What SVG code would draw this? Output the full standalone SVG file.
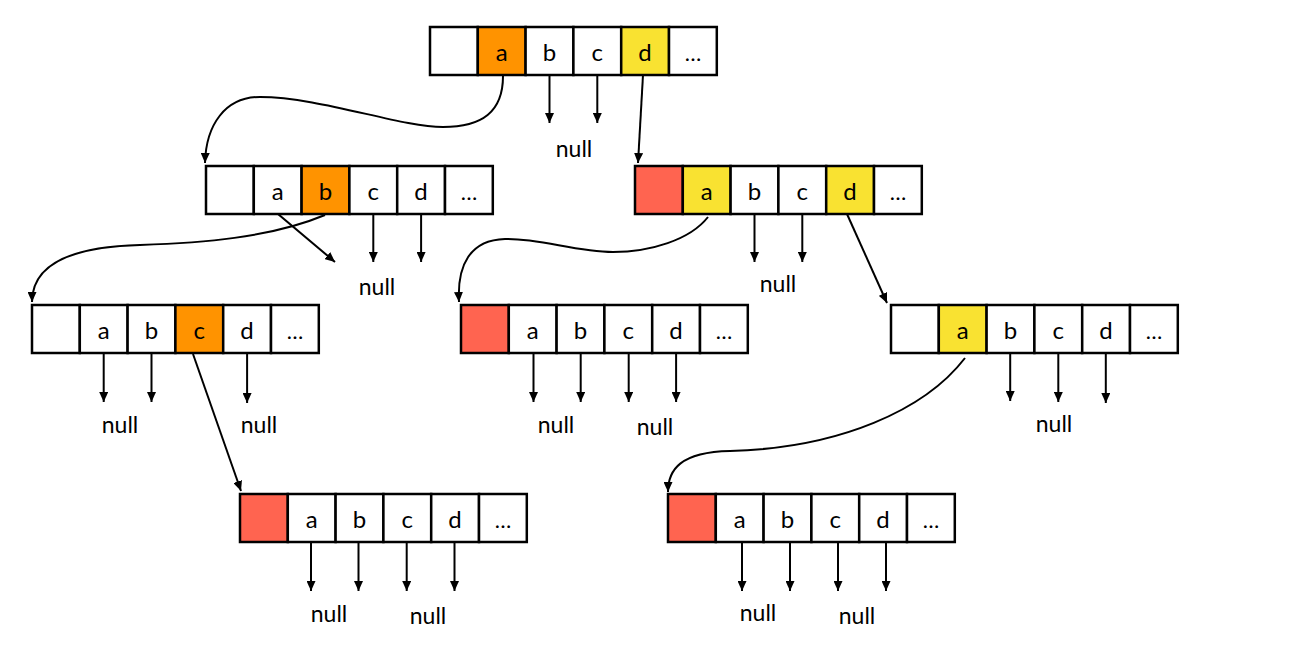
<svg xmlns="http://www.w3.org/2000/svg" width="1308" height="646" viewBox="0 0 1308 646">
  <defs>
    <marker id="arrow" viewBox="0 0 10 10" refX="10" refY="5" markerWidth="10" markerHeight="9" markerUnits="userSpaceOnUse" orient="auto" preserveAspectRatio="none">
      <path d="M0,0 L10,5 L0,10 z" fill="#000"/>
    </marker>
  </defs>
  <style>
    .cell { fill: #fff; stroke: #000; stroke-width: 2.5; }
    .orange { fill: #FF9300; }
    .yellow { fill: #F9E231; }
    .red { fill: #FF6450; }
    .lbl { font-family: Lato, "Liberation Sans", sans-serif; font-size: 24px; fill: #000; text-anchor: middle; }
    .nul { font-family: Lato, "Liberation Sans", sans-serif; font-size: 23px; fill: #000; text-anchor: middle; }
    .dots { font-family: Lato, "Liberation Sans", sans-serif; font-size: 22px; fill: #000; text-anchor: middle; }
    .link { fill: none; stroke: #000; stroke-width: 2; marker-end: url(#arrow); }
  </style>
  <rect width="1308" height="646" fill="#fff"/>

  <!-- root node -->
  <g id="node-root" transform="translate(430,27)">
    <rect class="cell" x="0" y="0" width="47.8" height="48"/>
    <rect class="cell orange" x="47.8" y="0" width="47.8" height="48"/>
    <rect class="cell" x="95.6" y="0" width="47.8" height="48"/>
    <rect class="cell" x="143.4" y="0" width="47.8" height="48"/>
    <rect class="cell yellow" x="191.2" y="0" width="47.8" height="48"/>
    <rect class="cell" x="239" y="0" width="47.8" height="48"/>
    <text class="lbl" x="71.7" y="34">a</text>
    <text class="lbl" x="119.5" y="34">b</text>
    <text class="lbl" x="167.3" y="34">c</text>
    <text class="lbl" x="215.1" y="34">d</text>
    <text class="dots" x="262.9" y="34">…</text>
  </g>

  <!-- level 1, path "a" -->
  <g id="node-a" transform="translate(206,166)">
    <rect class="cell" x="0" y="0" width="47.8" height="48"/>
    <rect class="cell" x="47.8" y="0" width="47.8" height="48"/>
    <rect class="cell orange" x="95.6" y="0" width="47.8" height="48"/>
    <rect class="cell" x="143.4" y="0" width="47.8" height="48"/>
    <rect class="cell" x="191.2" y="0" width="47.8" height="48"/>
    <rect class="cell" x="239" y="0" width="47.8" height="48"/>
    <text class="lbl" x="71.7" y="34">a</text>
    <text class="lbl" x="119.5" y="34">b</text>
    <text class="lbl" x="167.3" y="34">c</text>
    <text class="lbl" x="215.1" y="34">d</text>
    <text class="dots" x="262.9" y="34">…</text>
  </g>

  <!-- level 1, path "d" (word end) -->
  <g id="node-d" transform="translate(635,166)">
    <rect class="cell red" x="0" y="0" width="47.8" height="48"/>
    <rect class="cell yellow" x="47.8" y="0" width="47.8" height="48"/>
    <rect class="cell" x="95.6" y="0" width="47.8" height="48"/>
    <rect class="cell" x="143.4" y="0" width="47.8" height="48"/>
    <rect class="cell yellow" x="191.2" y="0" width="47.8" height="48"/>
    <rect class="cell" x="239" y="0" width="47.8" height="48"/>
    <text class="lbl" x="71.7" y="34">a</text>
    <text class="lbl" x="119.5" y="34">b</text>
    <text class="lbl" x="167.3" y="34">c</text>
    <text class="lbl" x="215.1" y="34">d</text>
    <text class="dots" x="262.9" y="34">…</text>
  </g>

  <!-- level 2, path "ab" -->
  <g id="node-ab" transform="translate(32,305)">
    <rect class="cell" x="0" y="0" width="47.8" height="48"/>
    <rect class="cell" x="47.8" y="0" width="47.8" height="48"/>
    <rect class="cell" x="95.6" y="0" width="47.8" height="48"/>
    <rect class="cell orange" x="143.4" y="0" width="47.8" height="48"/>
    <rect class="cell" x="191.2" y="0" width="47.8" height="48"/>
    <rect class="cell" x="239" y="0" width="47.8" height="48"/>
    <text class="lbl" x="71.7" y="34">a</text>
    <text class="lbl" x="119.5" y="34">b</text>
    <text class="lbl" x="167.3" y="34">c</text>
    <text class="lbl" x="215.1" y="34">d</text>
    <text class="dots" x="262.9" y="34">…</text>
  </g>

  <!-- level 2, path "da" (word end) -->
  <g id="node-da" transform="translate(461,305)">
    <rect class="cell red" x="0" y="0" width="47.8" height="48"/>
    <rect class="cell" x="47.8" y="0" width="47.8" height="48"/>
    <rect class="cell" x="95.6" y="0" width="47.8" height="48"/>
    <rect class="cell" x="143.4" y="0" width="47.8" height="48"/>
    <rect class="cell" x="191.2" y="0" width="47.8" height="48"/>
    <rect class="cell" x="239" y="0" width="47.8" height="48"/>
    <text class="lbl" x="71.7" y="34">a</text>
    <text class="lbl" x="119.5" y="34">b</text>
    <text class="lbl" x="167.3" y="34">c</text>
    <text class="lbl" x="215.1" y="34">d</text>
    <text class="dots" x="262.9" y="34">…</text>
  </g>

  <!-- level 2, path "dd" -->
  <g id="node-dd" transform="translate(891,305)">
    <rect class="cell" x="0" y="0" width="47.8" height="48"/>
    <rect class="cell yellow" x="47.8" y="0" width="47.8" height="48"/>
    <rect class="cell" x="95.6" y="0" width="47.8" height="48"/>
    <rect class="cell" x="143.4" y="0" width="47.8" height="48"/>
    <rect class="cell" x="191.2" y="0" width="47.8" height="48"/>
    <rect class="cell" x="239" y="0" width="47.8" height="48"/>
    <text class="lbl" x="71.7" y="34">a</text>
    <text class="lbl" x="119.5" y="34">b</text>
    <text class="lbl" x="167.3" y="34">c</text>
    <text class="lbl" x="215.1" y="34">d</text>
    <text class="dots" x="262.9" y="34">…</text>
  </g>

  <!-- level 3, path "abc" (word end) -->
  <g id="node-abc" transform="translate(240,494)">
    <rect class="cell red" x="0" y="0" width="47.8" height="48"/>
    <rect class="cell" x="47.8" y="0" width="47.8" height="48"/>
    <rect class="cell" x="95.6" y="0" width="47.8" height="48"/>
    <rect class="cell" x="143.4" y="0" width="47.8" height="48"/>
    <rect class="cell" x="191.2" y="0" width="47.8" height="48"/>
    <rect class="cell" x="239" y="0" width="47.8" height="48"/>
    <text class="lbl" x="71.7" y="34">a</text>
    <text class="lbl" x="119.5" y="34">b</text>
    <text class="lbl" x="167.3" y="34">c</text>
    <text class="lbl" x="215.1" y="34">d</text>
    <text class="dots" x="262.9" y="34">…</text>
  </g>

  <!-- level 3, path "dda" (word end) -->
  <g id="node-dda" transform="translate(668,494)">
    <rect class="cell red" x="0" y="0" width="47.8" height="48"/>
    <rect class="cell" x="47.8" y="0" width="47.8" height="48"/>
    <rect class="cell" x="95.6" y="0" width="47.8" height="48"/>
    <rect class="cell" x="143.4" y="0" width="47.8" height="48"/>
    <rect class="cell" x="191.2" y="0" width="47.8" height="48"/>
    <rect class="cell" x="239" y="0" width="47.8" height="48"/>
    <text class="lbl" x="71.7" y="34">a</text>
    <text class="lbl" x="119.5" y="34">b</text>
    <text class="lbl" x="167.3" y="34">c</text>
    <text class="lbl" x="215.1" y="34">d</text>
    <text class="dots" x="262.9" y="34">…</text>
  </g>

  <!-- null labels -->
  <g id="null-labels">
    <text class="nul" x="574" y="157">null</text>
    <text class="nul" x="377" y="295">null</text>
    <text class="nul" x="778" y="292">null</text>
    <text class="nul" x="120" y="433">null</text>
    <text class="nul" x="259" y="433">null</text>
    <text class="nul" x="556" y="433">null</text>
    <text class="nul" x="655" y="435">null</text>
    <text class="nul" x="1054" y="432">null</text>
    <text class="nul" x="329" y="622">null</text>
    <text class="nul" x="428" y="624">null</text>
    <text class="nul" x="758" y="621">null</text>
    <text class="nul" x="857" y="624">null</text>
  </g>

  <!-- child pointers -->
  <g id="connectors">
    <path class="link" d="M503 76 C503 112 482 127 443 127 C400 127 320 97 260 97 C225 97 206 125 205 163"/>
    <path class="link" d="M643 75 L638 163"/>
    <path class="link" d="M325 215 C270 238 200 243 140 245 C60 247 32 270 32 302"/>
    <path class="link" d="M708 217 C690 240 650 252 613 252 C575 252 540 238 505 239 C470 240 457 265 459 302"/>
    <path class="link" d="M847 214 L887 303"/>
    <path class="link" d="M193 354 L241 491"/>
    <path class="link" d="M965 358 C925 410 840 448 730 451 C680 452 668 470 668 492"/>

    <!-- pointers to null -->
    <path class="link" d="M549.5 75 V123"/>
    <path class="link" d="M597.3 75 V123"/>
    <path class="link" d="M278 214 L335 262"/>
    <path class="link" d="M373.3 214 V262"/>
    <path class="link" d="M421.1 214 V262"/>
    <path class="link" d="M754.5 214 V262"/>
    <path class="link" d="M802.3 214 V262"/>
    <path class="link" d="M103.7 353 V402"/>
    <path class="link" d="M151.5 353 V402"/>
    <path class="link" d="M247.1 353 V403"/>
    <path class="link" d="M533.5 353 V402"/>
    <path class="link" d="M580.7 353 V402"/>
    <path class="link" d="M628.7 353 V402"/>
    <path class="link" d="M676.1 353 V402"/>
    <path class="link" d="M1010.2 353 V401"/>
    <path class="link" d="M1058.3 353 V402"/>
    <path class="link" d="M1105.8 353 V403"/>
    <path class="link" d="M311 542 V591"/>
    <path class="link" d="M358.5 542 V591"/>
    <path class="link" d="M406.7 542 V591"/>
    <path class="link" d="M454.5 542 V591"/>
    <path class="link" d="M742 542 V591"/>
    <path class="link" d="M790 542 V591"/>
    <path class="link" d="M838 542 V591"/>
    <path class="link" d="M886 542 V591"/>
  </g>
</svg>
